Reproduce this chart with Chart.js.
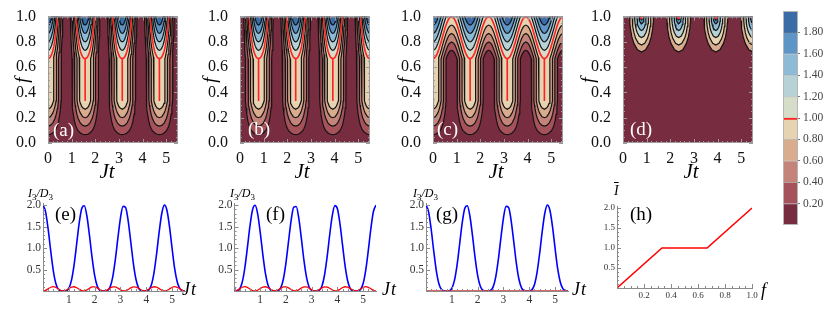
<!DOCTYPE html>
<html>
<head>
<meta charset="utf-8">
<title>I3/D3 contour figure</title>
<script src="https://cdn.jsdelivr.net/npm/chart.js@4.4.1/dist/chart.umd.min.js"></script>
<style>
  body { margin: 0; background: #fff; }
  #fig { position: relative; width: 830px; height: 314px; overflow: hidden; font-family: "Liberation Serif", "DejaVu Serif", serif; color: #000; }
  #fig canvas { position: absolute; }
  .lbl { position: absolute; white-space: nowrap; line-height: 1; }
  .pl { font-size: 19px; }
  .it { font-style: italic; }
  .fy { position: absolute; width: 20px; height: 20px; line-height: 20px; text-align: center; font-style: italic; font-size: 19px; transform: rotate(-90deg); }
  sub { font-style: normal; font-size: 9px; }
</style>
</head>
<body>
<div id="fig">
  <canvas id="pa" width="184" height="160" style="left:0;top:3px"></canvas>
  <canvas id="pb" width="184" height="160" style="left:192px;top:3px"></canvas>
  <canvas id="pc" width="184" height="160" style="left:385px;top:3px"></canvas>
  <canvas id="pd" width="184" height="160" style="left:575px;top:3px"></canvas>
  <canvas id="cbar" width="60" height="236" style="left:770px;top:0"></canvas>
  <canvas id="pe" width="187" height="126" style="left:0;top:185px"></canvas>
  <canvas id="pf" width="188" height="126" style="left:190px;top:185px"></canvas>
  <canvas id="pg" width="187" height="126" style="left:383px;top:185px"></canvas>
  <canvas id="ph" width="184" height="118" style="left:578px;top:190px"></canvas>

  <!-- panel labels -->
  <div class="lbl pl" style="left:53px;top:120px;color:#fff">(a)</div>
  <div class="lbl pl" style="left:248px;top:119px;color:#fff">(b)</div>
  <div class="lbl pl" style="left:437px;top:119px;color:#fff">(c)</div>
  <div class="lbl pl" style="left:630px;top:119px;color:#fff">(d)</div>
  <div class="lbl pl" style="left:55px;top:204px">(e)</div>
  <div class="lbl pl" style="left:266px;top:204px">(f)</div>
  <div class="lbl pl" style="left:436px;top:204px">(g)</div>
  <div class="lbl pl" style="left:630px;top:204px">(h)</div>

  <!-- axis titles -->
  <div class="fy" style="left:12px;top:70px">f</div>
  <div class="fy" style="left:200px;top:70px">f</div>
  <div class="fy" style="left:395px;top:70px">f</div>
  <div class="fy" style="left:578px;top:70px">f</div>
  <div class="lbl it" style="left:107px;top:161px;font-size:21px;transform:translateX(-50%)">Jt</div>
  <div class="lbl it" style="left:302px;top:161px;font-size:21px;transform:translateX(-50%)">Jt</div>
  <div class="lbl it" style="left:496px;top:161px;font-size:21px;transform:translateX(-50%)">Jt</div>
  <div class="lbl it" style="left:691px;top:161px;font-size:21px;transform:translateX(-50%)">Jt</div>
  <div class="lbl it" style="left:182px;top:280px;font-size:18px;letter-spacing:1px">Jt</div>
  <div class="lbl it" style="left:382px;top:280px;font-size:18px;letter-spacing:1px">Jt</div>
  <div class="lbl it" style="left:572px;top:280px;font-size:18px;letter-spacing:1px">Jt</div>
  <div class="lbl it" style="left:761px;top:281px;font-size:18px">f</div>
  <div class="lbl it" style="left:28px;top:187px;font-size:12px">I<sub>3</sub>/D<sub>3</sub></div>
  <div class="lbl it" style="left:230px;top:187px;font-size:12px">I<sub>3</sub>/D<sub>3</sub></div>
  <div class="lbl it" style="left:413px;top:187px;font-size:12px">I<sub>3</sub>/D<sub>3</sub></div>
  <div class="lbl it" style="left:614px;top:184px;font-size:14px"><span style="text-decoration:overline">I</span></div>
</div>

<script>
// ---- colour scale: one colour per 0.2 band, 0.0 .. 2.0
const bandColors = ['#772c3f', '#a6525a', '#c4847a', '#d9ac8e', '#e6d3b1',
                    '#d5dcc8', '#b6d2d7', '#8dbad6', '#5d95c6', '#3a6ca7'];
const levels = [0.2, 0.4, 0.6, 0.8, 1.0, 1.2, 1.4, 1.6, 1.8];
const levelBands = [1, 2, 3, 4, 5, 6, 7, 8, 9];
const cbarTicks = [0.2, 0.4, 0.6, 0.8, 1.0, 1.2, 1.4, 1.6, 1.8];

// ---- column centres (Jt) of the contour panels
const aCenters = [0, 1.5708, 3.1416, 4.7124, 6.2832];
const bCenters = [-0.7854, 0.7854, 2.3562, 3.927, 5.4978];
const cCenters = [0, 1.5708, 3.1416, 4.7124, 6.2832];
const dCenters = [0.7854, 2.3562, 3.927, 5.4978];

// ---- contour lines (a)/(b): half column, [distance from centre, f]
const abProfiles = [
  [[0,0.067],[0.1,0.069],[0.2,0.079],[0.3,0.098],[0.35,0.114],[0.4,0.137],[0.45,0.173],[0.5,0.228],[0.53,0.279],[0.554,0.333],[0.554,0.667],[0.575,0.733],[0.6,0.841],[0.61,0.898],[0.625,1.0],[0.65,1.1],[0.785,1.1]],
  [[0,0.133],[0.1,0.139],[0.2,0.157],[0.3,0.196],[0.35,0.228],[0.4,0.275],[0.42,0.299],[0.443,0.333],[0.443,0.667],[0.47,0.717],[0.5,0.79],[0.53,0.891],[0.554,1.0],[0.58,1.1],[0.785,1.1]],
  [[0,0.2],[0.1,0.208],[0.2,0.236],[0.25,0.26],[0.3,0.294],[0.342,0.333],[0.342,0.667],[0.37,0.7],[0.4,0.745],[0.45,0.851],[0.475,0.924],[0.496,1.0],[0.52,1.1],[0.785,1.1]],
  [[0,0.267],[0.1,0.278],[0.15,0.292],[0.2,0.314],[0.232,0.333],[0.232,0.667],[0.25,0.68],[0.3,0.725],[0.35,0.789],[0.4,0.883],[0.443,1.0],[0.47,1.1],[0.785,1.1]],
  [[0,0.333],[0.002,0.667],[0.05,0.67],[0.1,0.68],[0.15,0.699],[0.2,0.726],[0.25,0.766],[0.3,0.823],[0.35,0.903],[0.393,1.0],[0.42,1.1],[0.785,1.1]],
  [[0,0.733],[0.05,0.737],[0.1,0.75],[0.15,0.772],[0.2,0.805],[0.25,0.853],[0.3,0.921],[0.342,1.0],[0.37,1.1],[0.785,1.1]],
  [[0,0.8],[0.05,0.805],[0.1,0.819],[0.15,0.845],[0.2,0.883],[0.25,0.939],[0.29,1.0],[0.32,1.1],[0.785,1.1]],
  [[0,0.867],[0.05,0.872],[0.1,0.889],[0.15,0.918],[0.2,0.962],[0.232,1.0],[0.26,1.1],[0.785,1.1]],
  [[0,0.933],[0.05,0.939],[0.1,0.958],[0.13,0.976],[0.161,1.0],[0.19,1.1],[0.785,1.1]]
];

// ---- contour lines
const cProfiles = [
  [[0,0.067],[0.1,0.069],[0.2,0.079],[0.3,0.098],[0.35,0.114],[0.4,0.137],[0.45,0.173],[0.5,0.228],[0.53,0.279],[0.554,0.333],[0.554,0.667],[0.6,0.69],[0.65,0.709],[0.7,0.724],[0.75,0.732],[0.785,0.733]],
  [[0,0.133],[0.1,0.139],[0.2,0.157],[0.3,0.196],[0.35,0.228],[0.4,0.275],[0.42,0.299],[0.443,0.333],[0.443,0.667],[0.5,0.703],[0.55,0.731],[0.6,0.756],[0.65,0.776],[0.7,0.79],[0.785,0.8]],
  [[0,0.2],[0.1,0.208],[0.2,0.236],[0.25,0.26],[0.3,0.294],[0.342,0.333],[0.342,0.667],[0.4,0.705],[0.45,0.738],[0.5,0.769],[0.55,0.798],[0.6,0.823],[0.65,0.843],[0.7,0.857],[0.785,0.867]],
  [[0,0.267],[0.1,0.278],[0.15,0.292],[0.2,0.314],[0.232,0.333],[0.232,0.667],[0.25,0.677],[0.3,0.706],[0.35,0.738],[0.4,0.772],[0.45,0.805],[0.5,0.836],[0.55,0.865],[0.6,0.89],[0.65,0.909],[0.7,0.924],[0.785,0.933]],
  [[0,0.333],[0.002,0.667],[0.05,0.67],[0.1,0.68],[0.15,0.696],[0.2,0.717],[0.25,0.743],[0.3,0.773],[0.35,0.805],[0.4,0.838],[0.45,0.871],[0.5,0.903],[0.55,0.931],[0.6,0.956],[0.65,0.976],[0.7,0.99],[0.785,1.0]],
  [[0,0.733],[0.05,0.737],[0.1,0.746],[0.15,0.762],[0.2,0.784],[0.25,0.81],[0.3,0.84],[0.35,0.872],[0.4,0.905],[0.45,0.938],[0.5,0.969],[0.554,1.0],[0.6,1.1],[0.785,1.1]],
  [[0,0.8],[0.05,0.803],[0.1,0.813],[0.15,0.829],[0.2,0.851],[0.25,0.877],[0.3,0.906],[0.35,0.938],[0.4,0.972],[0.443,1.0],[0.49,1.1],[0.785,1.1]],
  [[0,0.867],[0.05,0.87],[0.1,0.88],[0.15,0.896],[0.2,0.917],[0.25,0.943],[0.3,0.973],[0.342,1.0],[0.39,1.1],[0.785,1.1]],
  [[0,0.933],[0.05,0.937],[0.1,0.946],[0.15,0.962],[0.2,0.984],[0.232,1.0],[0.28,1.1],[0.785,1.1]]
];

// ---- arches
const dProfiles = [
  [[0,0.72],[0.171,0.737],[0.321,0.786],[0.41,0.839],[0.47,0.904],[0.492,0.951],[0.5,1.0],[0.53,1.1],[0.785,1.1]],
  [[0,0.775],[0.133,0.789],[0.251,0.828],[0.319,0.871],[0.367,0.923],[0.384,0.961],[0.39,1.0],[0.42,1.1],[0.785,1.1]],
  [[0,0.835],[0.099,0.845],[0.186,0.874],[0.238,0.905],[0.273,0.944],[0.286,0.971],[0.29,1.0],[0.32,1.1],[0.785,1.1]],
  [[0,0.89],[0.065,0.897],[0.122,0.916],[0.156,0.937],[0.179,0.962],[0.187,0.981],[0.19,1.0],[0.22,1.1],[0.785,1.1]],
  [[0,0.945],[0.034,0.948],[0.064,0.958],[0.082,0.968],[0.094,0.981],[0.099,0.99],[0.1,1.0],[0.13,1.1],[0.785,1.1]],
  [[0,0.975],[0.03,0.982],[0.045,0.99],[0.05,1.0],[0.07,1.1],[0.785,1.1]]
];
const dBands = [3, 4, 6, 7, 8, 9];
const dMarks = [0.7854, 2.3562, 3.927, 5.4978];

// ---- line panels (e)-(g): Jt grid and curves
const tGrid = [0,0.1,0.2,0.3,0.4,0.5,0.6,0.7,0.8,0.9,1.0,1.1,1.2,1.3,1.4,1.5,1.6,1.7,1.8,1.9,
               2.0,2.1,2.2,2.3,2.4,2.5,2.6,2.7,2.8,2.9,3.0,3.1,3.2,3.3,3.4,3.5,3.6,3.7,3.8,3.9,
               4.0,4.1,4.2,4.3,4.4,4.5,4.6,4.7,4.8,4.9,5.0,5.1,5.2,5.3,5.4,5.5];
const eBlue = [2.000,1.845,1.439,0.928,0.471,0.170,0.035,0.002,0.000,0.005,0.060,0.240,0.591,1.078,1.576,1.921,1.986,1.747,1.294,0.783,
               0.365,0.116,0.018,0.000,0.000,0.013,0.096,0.325,0.724,1.230,1.700,1.972,1.946,1.630,1.143,0.646,0.274,0.074,0.008,0.000,
               0.001,0.026,0.145,0.428,0.867,1.378,1.806,2.000,1.881,1.499,0.992,0.520,0.209,0.054,0.006,0.000];
const eRed  = [0.000,0.015,0.051,0.087,0.100,0.083,0.046,0.011,0.000,0.020,0.057,0.091,0.099,0.078,0.040,0.008,0.001,0.024,0.063,0.094,
               0.098,0.073,0.034,0.005,0.003,0.030,0.069,0.096,0.096,0.066,0.029,0.003,0.005,0.035,0.074,0.098,0.093,0.063,0.024,0.001,
               0.008,0.041,0.079,0.099,0.090,0.056,0.019,0.000,0.012,0.047,0.083,0.100,0.086,0.051,0.015,0.000];
const fBlue = [0.000,0.003,0.046,0.203,0.530,1.003,1.509,1.886,1.997,1.799,1.367,0.855,0.416,0.141,0.025,0.001,0.000,0.009,0.077,0.280,
               0.656,1.154,1.640,1.950,1.970,1.691,1.219,0.713,0.318,0.093,0.012,0.000,0.000,0.019,0.119,0.373,0.794,1.305,1.755,1.988,
               1.916,1.566,1.067,0.582,0.234,0.058,0.005,0.000,0.002,0.036,0.175,0.480,0.939,1.450,1.852,2.000];
const fRed  = [0.000,0.015,0.051,0.087,0.100,0.083,0.046,0.011,0.000,0.020,0.057,0.091,0.099,0.078,0.040,0.008,0.001,0.024,0.063,0.094,
               0.098,0.073,0.034,0.005,0.003,0.030,0.069,0.096,0.096,0.066,0.029,0.003,0.005,0.035,0.074,0.098,0.093,0.063,0.024,0.001,
               0.008,0.041,0.079,0.099,0.090,0.056,0.019,0.000,0.012,0.047,0.083,0.100,0.086,0.051,0.015,0.000];
const gBlue = [2.000,1.845,1.439,0.928,0.471,0.170,0.035,0.002,0.000,0.005,0.060,0.240,0.591,1.078,1.576,1.921,1.986,1.747,1.294,0.783,
               0.365,0.116,0.018,0.000,0.000,0.013,0.096,0.325,0.724,1.230,1.700,1.972,1.946,1.630,1.143,0.646,0.274,0.074,0.008,0.000,
               0.001,0.026,0.145,0.428,0.867,1.378,1.806,2.000,1.881,1.499,0.992,0.520,0.209,0.054,0.006,0.000];
const gRedT = [0, 5.5];
const gRed  = [0, 0];

// ---- panel (h)
const hF = [0, 0.333, 0.667, 1.0];
const hI = [0, 1, 1, 2];

// ---- tick values
const topXTicks = [0, 1, 2, 3, 4, 5];
const topYTicks = [0, 0.2, 0.4, 0.6, 0.8, 1.0];
const lineXTicks = [0, 1, 2, 3, 4, 5];
const lineYTicks = [0, 0.5, 1.0, 1.5, 2.0];
const hXTicks = [0, 0.2, 0.4, 0.6, 0.8, 1.0];
const hYTicks = [0, 0.5, 1.0, 1.5, 2.0];

Chart.defaults.font.family = "'Liberation Serif', 'DejaVu Serif', serif";
Chart.defaults.color = '#222';
Chart.defaults.animation = false;
Chart.defaults.events = [];

// fills the plot area (lowest band colour under the contours)
const areaBg = {
  id: 'areaBg',
  beforeDatasetsDraw(chart, args, o) {
    if (!o.color) return;
    const a = chart.chartArea, ctx = chart.ctx;
    ctx.save();
    ctx.fillStyle = o.color;
    ctx.fillRect(a.left, a.top, a.right - a.left, a.bottom - a.top);
    ctx.restore();
  }
};

// frame and inward Mathematica style tick marks
const frameTicks = {
  id: 'frameTicks',
  afterDatasetsDraw(chart, args, o) {
    if (!o.color) return;
    const ctx = chart.ctx, a = chart.chartArea;
    const sides = o.sides || [];
    ctx.save();
    ctx.strokeStyle = o.color;
    ctx.lineWidth = 1;
    if (o.box) ctx.strokeRect(a.left + 0.5, a.top + 0.5, a.right - a.left - 1, a.bottom - a.top - 1);
    ctx.beginPath();
    const marks = (scale, step, len, horiz) => {
      if (!step) return;
      const n = Math.floor((scale.max - scale.min) / step + 1e-6);
      for (let k = 0; k <= n; k++) {
        const p = Math.round(scale.getPixelForValue(scale.min + k * step)) + 0.5;
        if (horiz) {
          if (sides.includes('bottom')) { ctx.moveTo(p, a.bottom); ctx.lineTo(p, a.bottom - len); }
          if (sides.includes('top')) { ctx.moveTo(p, a.top); ctx.lineTo(p, a.top + len); }
        } else {
          if (sides.includes('left')) { ctx.moveTo(a.left, p); ctx.lineTo(a.left + len, p); }
          if (sides.includes('right')) { ctx.moveTo(a.right, p); ctx.lineTo(a.right - len, p); }
        }
      }
    };
    marks(chart.scales.x, o.xMinor, 2, true);
    marks(chart.scales.x, o.xMajor, 4, true);
    marks(chart.scales.y, o.yMinor, 2, false);
    marks(chart.scales.y, o.yMajor, 4, false);
    ctx.stroke();
    ctx.restore();
  }
};

// place each half-column profile (mirrored) at every centre
function contourSets(profiles, centers, bands, lineLevels) {
  return profiles.map((prof, i) => {
    const pts = [];
    centers.forEach(c => {
      for (let k = prof.length - 1; k > 0; k--) pts.push({x: c - prof[k][0], y: prof[k][1]});
      prof.forEach(p => pts.push({x: c + p[0], y: p[1]}));
    });
    const isRed = lineLevels && lineLevels[i] === 1.0;
    return {
      data: pts,
      fill: 'end',
      backgroundColor: bandColors[bands[i]],
      borderColor: isRed ? '#ff2222' : '#141414',
      borderWidth: isRed ? 1.6 : 1.2,
      pointRadius: 0,
      tension: 0,
      clip: 0,
      order: 100 - i
    };
  });
}

function contourChart(id, datasets) {
  return new Chart(document.getElementById(id), {
    type: 'line',
    data: { datasets: datasets },
    options: {
      responsive: false,
      layout: { padding: { top: 12, right: 6, bottom: 0, left: 0 } },
      plugins: {
        legend: { display: false },
        tooltip: { enabled: false },
        areaBg: { color: bandColors[0] },
        frameTicks: { color: '#9a9a9a', box: true, sides: ['bottom', 'top', 'left', 'right'],
                      xMajor: 1, xMinor: 0.2, yMajor: 0.2, yMinor: 0.05 }
      },
      scales: {
        x: {
          type: 'linear', min: 0, max: 5.5,
          afterBuildTicks: s => { s.ticks = topXTicks.map(v => ({ value: v })); },
          afterFit: s => { s.height = 20; },
          ticks: { font: { size: 16, lineHeight: 1 }, color: '#111', padding: 0, maxRotation: 0, callback: v => String(v) },
          grid: { display: false }, border: { display: false }
        },
        y: {
          type: 'linear', min: 0, max: 1,
          afterBuildTicks: s => { s.ticks = topYTicks.map(v => ({ value: v })); },
          afterFit: s => { s.width = 48; },
          ticks: { font: { size: 16 }, color: '#111', padding: 4, callback: v => v.toFixed(1) },
          grid: { display: false }, border: { display: false }
        }
      }
    },
    plugins: [areaBg, frameTicks]
  });
}

contourChart('pa', contourSets(abProfiles, aCenters, levelBands, levels));
contourChart('pb', contourSets(abProfiles, bCenters, levelBands, levels));
contourChart('pc', contourSets(cProfiles, cCenters, levelBands, levels));
contourChart('pd', contourSets(dProfiles, dCenters, dBands, null).concat([{
  data: dMarks.map(t => ({ x: t, y: 0.992 })),
  showLine: false, pointStyle: 'rect', pointRadius: 2, pointBackgroundColor: '#ff2222',
  pointBorderWidth: 0, clip: 0, order: -1
}]));

// ---- colour bar
new Chart(document.getElementById('cbar'), {
  type: 'bar',
  data: {
    labels: [''],
    datasets: bandColors.map((c, i) => ({
      data: [0.2],
      backgroundColor: c,
      borderColor: i === 4 ? '#ff2222' : 'rgba(0,0,0,0.22)',
      borderWidth: { top: i === 4 ? 2 : (i === 9 ? 0 : 1), bottom: 0, left: 0, right: 0 },
      borderSkipped: false,
      barPercentage: 1,
      categoryPercentage: 1
    }))
  },
  options: {
    responsive: false,
    layout: { padding: { top: 11, right: 0, bottom: 11, left: 13 } },
    plugins: {
      legend: { display: false },
      tooltip: { enabled: false },
      frameTicks: { color: '#b5b5b5', box: true }
    },
    scales: {
      x: { stacked: true, display: false },
      y: {
        stacked: true, position: 'right', min: 0, max: 2,
        afterBuildTicks: s => { s.ticks = cbarTicks.map(v => ({ value: v })); },
        afterFit: s => { s.width = 32; },
        ticks: { font: { size: 11.5 }, color: '#444', padding: 3, callback: v => v.toFixed(2) },
        grid: { display: true, drawOnChartArea: false, drawTicks: true, tickLength: 2, color: '#777' },
        border: { display: false }
      }
    }
  },
  plugins: [frameTicks]
});

// ---- line panels
function lineChart(id, datasets, cfg) {
  return new Chart(document.getElementById(id), {
    type: 'line',
    data: { datasets: datasets },
    options: {
      responsive: false,
      layout: { padding: { top: cfg.padTop, right: cfg.padRight, bottom: 0, left: 0 } },
      plugins: {
        legend: { display: false },
        tooltip: { enabled: false },
        frameTicks: { color: '#8a8a8a', sides: ['bottom', 'left'],
                      xMajor: cfg.xMajor, xMinor: cfg.xMinor, yMajor: cfg.yMajor, yMinor: cfg.yMinor }
      },
      scales: {
        x: {
          type: 'linear', min: 0, max: cfg.xMax,
          afterBuildTicks: s => { s.ticks = cfg.xTicks.map(v => ({ value: v })); },
          afterFit: s => { s.height = 20; },
          ticks: { font: { size: cfg.font }, color: '#333', padding: 2, maxRotation: 0,
                   callback: v => v === 0 ? '' : cfg.xFmt(v) },
          grid: { display: true, drawOnChartArea: false, drawTicks: false },
          border: { display: true, color: '#8a8a8a', width: 1 }
        },
        y: {
          type: 'linear', min: 0, max: 2.05,
          afterBuildTicks: s => { s.ticks = cfg.yTicks.map(v => ({ value: v })); },
          afterFit: s => { s.width = cfg.yWidth; },
          ticks: { font: { size: cfg.font }, color: '#333', padding: 2, callback: v => v === 0 ? '' : v.toFixed(1) },
          grid: { display: true, drawOnChartArea: false, drawTicks: false },
          border: { display: true, color: '#8a8a8a', width: 1 }
        }
      }
    },
    plugins: [frameTicks]
  });
}

function curve(xs, ys, color, width) {
  return {
    data: xs.map((x, i) => ({ x: x, y: ys[i] })),
    borderColor: color, borderWidth: width, pointRadius: 0,
    cubicInterpolationMode: 'monotone', fill: false, clip: 0
  };
}

const tCfg = { xMax: 5.5, xTicks: lineXTicks, yTicks: lineYTicks, xMajor: 1, xMinor: 0.2, yMajor: 0.5, yMinor: 0.1,
               font: 11.5, padTop: 18, padRight: 2, xFmt: v => String(v) };

lineChart('pe', [curve(tGrid, eRed, '#ff0000', 1.3), curve(tGrid, eBlue, '#0000ff', 1.6)], Object.assign({}, tCfg, { yWidth: 43 }));
lineChart('pf', [curve(tGrid, fRed, '#ff0000', 1.3), curve(tGrid, fBlue, '#0000ff', 1.6)], Object.assign({}, tCfg, { yWidth: 44.5 }));
lineChart('pg', [curve(gRedT, gRed, '#e03030', 1.6), curve(tGrid, gBlue, '#0000ff', 1.6)], Object.assign({}, tCfg, { yWidth: 43 }));
lineChart('ph', [{ data: hF.map((x, i) => ({ x: x, y: hI[i] })), borderColor: '#ff0000', borderWidth: 1.5,
                   pointRadius: 0, tension: 0, fill: false, clip: 0 }],
  { xMax: 1.0, xTicks: hXTicks, yTicks: hYTicks, xMajor: 0.2, xMinor: 0.05, yMajor: 0.5, yMinor: 0.1,
    font: 9, padTop: 16, padRight: 10, yWidth: 39, xFmt: v => v.toFixed(1) });
</script>
</body>
</html>
